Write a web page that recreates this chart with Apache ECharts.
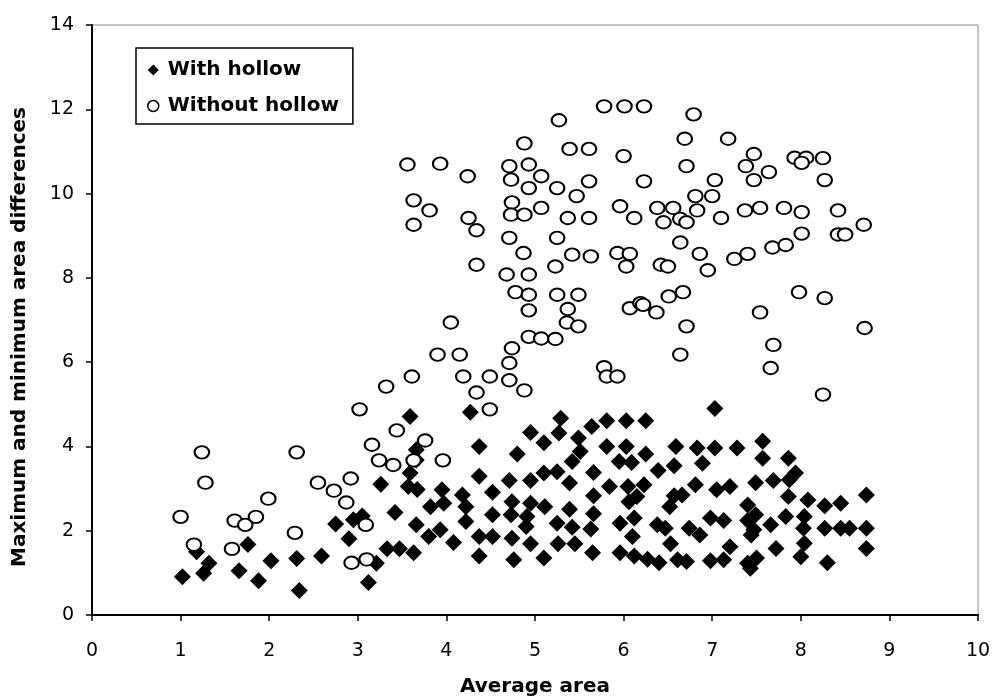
<!DOCTYPE html>
<html>
<head>
<meta charset="utf-8">
<script src="https://cdn.jsdelivr.net/npm/echarts@6/dist/echarts.min.js"></script>
<style>html,body{margin:0;padding:0;background:#fff;}#c{width:994px;height:698px;}</style>
</head>
<body>
<div id="c"></div>
<script>
const xTitle = 'Average area';
const yTitle = 'Maximum and minimum area differences';
const seriesNames = ['With hollow', 'Without hollow'];

const withHollow = [
[3.26,3.10],[3.42,2.43],[2.75,2.16],[2.95,2.26],[3.05,2.35],[2.90,1.81],[3.33,1.57],[3.47,1.57],[3.21,1.23],[3.12,0.77],
[2.59,1.40],[2.31,1.34],[2.34,0.58],[2.02,1.29],[1.88,0.81],[1.76,1.67],[1.66,1.05],[1.32,1.23],[1.26,0.99],[1.18,1.50],[1.02,0.91],
[3.59,4.71],[4.27,4.81],[5.29,4.67],[5.27,4.32],[4.95,4.33],[5.10,4.09],[5.64,4.47],[5.81,4.61],[6.03,4.61],[6.25,4.61],
[5.49,4.20],[5.81,4.00],[6.03,4.00],[6.25,3.82],[6.59,4.00],[4.37,4.00],[4.80,3.82],[5.51,3.88],[5.42,3.64],[5.95,3.64],
[6.09,3.62],[5.66,3.38],[6.39,3.43],[6.57,3.54],[3.66,3.92],[3.66,3.68],[3.59,3.37],[4.37,3.29],[4.71,3.19],[4.95,3.19],
[5.10,3.37],[5.25,3.40],[5.39,3.13],[5.84,3.05],[6.05,3.05],[6.23,3.09],[6.15,2.81],[6.06,2.69],[6.57,2.83],[3.57,3.05],
[3.67,2.98],[3.95,2.97],[4.18,2.85],[4.52,2.91],[3.82,2.57],[3.97,2.65],[4.22,2.57],[4.74,2.69],[4.95,2.65],[5.11,2.57],
[5.39,2.51],[5.66,2.83],[5.66,2.40],[4.22,2.22],[4.52,2.38],[4.73,2.38],[4.91,2.34],[4.90,2.10],[5.25,2.18],[5.42,2.08],
[5.63,2.04],[5.96,2.18],[6.12,2.30],[6.38,2.14],[6.47,2.06],[3.66,2.14],[3.80,1.86],[3.93,2.02],[4.08,1.72],[4.37,1.86],
[4.52,1.86],[4.74,1.82],[4.95,1.69],[5.26,1.69],[5.45,1.69],[6.10,1.86],[6.53,1.69],[3.63,1.48],[4.37,1.40],[4.76,1.31],
[5.10,1.35],[5.65,1.48],[5.96,1.48],[6.12,1.40],[6.27,1.32],[6.40,1.24],[6.61,1.31],
[7.03,4.90],[6.83,3.96],[7.03,3.96],[7.28,3.96],[7.57,4.12],[7.57,3.72],[7.86,3.72],[6.89,3.60],[6.81,3.09],[6.66,2.85],
[6.52,2.57],[7.05,2.97],[7.20,3.05],[7.49,3.14],[7.69,3.19],[7.94,3.37],[7.87,3.21],[7.86,2.81],[8.08,2.73],[8.27,2.59],
[8.45,2.65],[8.74,2.85],[7.40,2.61],[7.49,2.38],[7.40,2.24],[6.98,2.30],[7.13,2.24],[7.66,2.14],[7.83,2.34],[8.04,2.34],
[8.03,2.06],[8.04,1.70],[8.00,1.38],[8.27,2.06],[8.45,2.06],[8.55,2.06],[8.74,2.06],[8.74,1.58],[8.30,1.24],[7.72,1.58],
[6.74,2.06],[6.86,1.90],[7.44,1.90],[7.47,2.02],[7.20,1.62],[7.13,1.31],[6.98,1.29],[6.71,1.27],[7.40,1.23],[7.50,1.35],[7.43,1.11]
];

const withoutHollow = [
[3.32,5.42],[3.02,4.88],[3.44,4.38],[3.16,4.04],[3.24,3.67],[3.40,3.56],[1.24,3.86],[1.28,3.14],[2.31,3.86],[1.99,2.76],
[2.55,3.14],[2.73,2.95],[2.92,3.24],[2.87,2.67],[1.00,2.33],[1.61,2.24],[1.73,2.14],[1.85,2.33],[2.29,1.95],[3.09,2.14],
[1.15,1.67],[1.58,1.57],[2.93,1.24],[3.10,1.32],[3.76,4.14],[3.63,3.67],[3.96,3.67],
[4.87,8.59],[5.42,8.55],[5.63,8.51],[5.93,8.59],[6.07,8.57],[4.34,8.31],[4.68,8.08],[4.93,8.08],[5.23,8.27],[6.03,8.27],
[4.78,7.66],[4.93,7.60],[5.25,7.60],[5.49,7.60],[4.93,7.23],[5.37,7.26],[6.07,7.28],[6.19,7.40],[5.36,6.94],[5.49,6.85],
[4.05,6.94],[4.93,6.60],[5.07,6.56],[5.23,6.55],[4.74,6.33],[4.71,5.98],[3.90,6.18],[4.15,6.18],[3.61,5.66],[4.19,5.66],
[4.49,5.66],[4.71,5.57],[4.34,5.28],[4.88,5.33],[5.78,5.88],[5.81,5.66],[5.93,5.66],[4.49,4.88],
[6.42,8.31],[6.50,8.27],[6.86,8.57],[6.95,8.18],[7.25,8.45],[7.40,8.57],[7.68,8.72],[7.83,8.78],[7.98,7.66],[8.27,7.52],
[7.54,7.18],[8.72,6.81],[7.69,6.41],[7.66,5.86],[8.25,5.23],[6.22,7.36],[6.37,7.18],[6.51,7.56],[6.67,7.66],[6.71,6.85],[6.64,6.18],
[5.78,12.07],[6.01,12.07],[6.23,12.07],[5.27,11.74],[4.88,11.19],[5.39,11.06],[5.61,11.06],[6.00,10.89],[3.56,10.69],[3.93,10.71],
[4.24,10.41],[4.71,10.65],[4.93,10.69],[4.73,10.33],[4.93,10.13],[5.07,10.41],[5.25,10.13],[5.47,9.94],[5.61,10.29],[6.23,10.29],
[3.63,9.84],[3.81,9.60],[3.63,9.26],[4.25,9.42],[4.34,9.13],[4.74,9.79],[4.73,9.50],[4.88,9.50],[5.07,9.66],[5.37,9.42],
[5.61,9.42],[5.96,9.70],[6.12,9.42],[6.38,9.66],[4.71,8.95],[5.25,8.95],
[6.79,11.88],[6.69,11.30],[7.18,11.30],[7.47,10.94],[7.38,10.65],[7.64,10.51],[7.47,10.32],[7.93,10.85],[8.06,10.85],[8.01,10.73],
[8.25,10.84],[8.27,10.32],[6.71,10.65],[7.03,10.32],[6.81,9.94],[7.00,9.94],[6.56,9.66],[6.83,9.60],[6.45,9.32],[6.64,9.40],
[6.71,9.32],[7.10,9.42],[7.37,9.60],[7.54,9.66],[7.81,9.66],[8.01,9.56],[8.42,9.60],[8.71,9.26],[8.42,9.03],[8.50,9.03],
[8.01,9.05],[6.64,8.84]
];

const xTicks = {min: 0, max: 10, interval: 1};
const yTicks = {min: 0, max: 14, interval: 2};

const chart = echarts.init(document.getElementById('c'), null, {renderer: 'canvas'});
const font = 'DejaVu Sans';
chart.setOption({
  animation: false,
  backgroundColor: '#fff',
  textStyle: {fontFamily: font},
  grid: {left: 92, right: 16, top: 25, bottom: 83, show: true, borderColor: '#888', borderWidth: 1,
         containLabel: false, outerBoundsMode: 'none'},
  legend: {
    orient: 'vertical', left: 136, top: 48,
    padding: [10, 14, 6, 11],
    itemWidth: 11, itemHeight: 11, itemGap: 12,
    borderColor: '#000', borderWidth: 1.5, backgroundColor: '#fff',
    textStyle: {fontFamily: font, fontWeight: 'bold', fontSize: 20, color: '#000', lineHeight: 24, padding: [0, 0, 0, 4]},
    data: [
      {name: seriesNames[0], icon: 'diamond', itemStyle: {color: '#000', borderWidth: 0}},
      {name: seriesNames[1], icon: 'circle', itemStyle: {color: '#fff', borderColor: '#000', borderWidth: 1.5}}
    ]
  },
  xAxis: {
    type: 'value', min: xTicks.min, max: xTicks.max, interval: xTicks.interval,
    name: xTitle, nameLocation: 'middle', nameGap: 62,
    nameTextStyle: {fontFamily: font, fontWeight: 'bold', fontSize: 20, color: '#000'},
    axisLine: {show: true, onZero: false, lineStyle: {color: '#000', width: 2}},
    axisTick: {show: true, inside: false, length: 6, lineStyle: {color: '#000', width: 1.5}},
    axisLabel: {fontFamily: font, fontSize: 19, color: '#000', margin: 27},
    splitLine: {show: false}
  },
  yAxis: {
    type: 'value', min: yTicks.min, max: yTicks.max, interval: yTicks.interval,
    name: yTitle, nameLocation: 'middle', nameGap: 62, nameRotate: 90,
    nameTextStyle: {fontFamily: font, fontWeight: 'bold', fontSize: 20, color: '#000', padding: [0, 34, 0, 0]},
    axisLine: {show: true, onZero: false, lineStyle: {color: '#000', width: 2}},
    axisTick: {show: true, inside: false, length: 6, lineStyle: {color: '#000', width: 1.5}},
    axisLabel: {fontFamily: font, fontSize: 19, color: '#000', margin: 18},
    splitLine: {show: false}
  },
  series: [
    {
      name: seriesNames[0], type: 'scatter', data: withHollow,
      symbol: 'diamond', symbolSize: [17, 17],
      itemStyle: {color: '#000', opacity: 1}
    },
    {
      name: seriesNames[1], type: 'scatter', data: withoutHollow,
      symbol: 'circle', symbolSize: [14.5, 12.5],
      itemStyle: {color: '#fff', borderColor: '#000', borderWidth: 2, opacity: 1}
    }
  ]
});
</script>
</body>
</html>
